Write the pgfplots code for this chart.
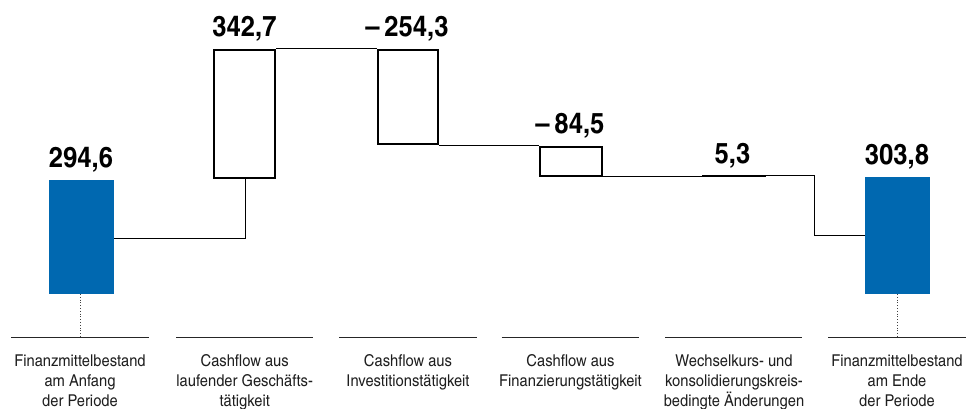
\documentclass[border=0pt]{standalone}
\usepackage{pgfplots}
\pgfplotsset{compat=1.18}
\usepackage{fontspec}
\setmainfont{texgyreheroscn}[Extension=.otf, UprightFont=*-regular, BoldFont=*-bold, FakeStretch=1.1]
\definecolor{fmblue}{RGB}{0,104,176}
\definecolor{labelgray}{RGB}{30,30,30}

\begin{document}
\begin{tikzpicture}
\begin{axis}[
    width=977pt, height=338pt, scale only axis,
    xmin=0, xmax=977, ymin=0, ymax=338,
    axis line style={draw=none},
    tick style={draw=none}, major tick length=0pt,
    ytick=\empty,
    xtick={80,244.7,408,570.5,734,897},
    xticklabels={
        {Finanzmittelbestand\\am Anfang\\der Periode},
        {Cashflow aus\\laufender Geschäfts-\\tätigkeit},
        {Cashflow aus\\Investitionstätigkeit},
        {Cashflow aus\\Finanzierungstätigkeit},
        {Wechselkurs- und\\konsolidierungskreis-\\bedingte Änderungen},
        {Finanzmittelbestand\\am Ende\\der Periode}},
    xticklabel style={anchor=north, inner sep=0pt, yshift=-16.5pt, align=center,
        font=\fontsize{16.3}{20}\selectfont, text=labelgray},
    clip=false,
]
% category base lines
\addplot[draw=black!85, line width=1pt, unbounded coords=jump] coordinates {
    (11,0) (149,0) (160,nan)
    (176,0) (313.3,0) (325,nan)
    (339,0) (476.7,0) (490,nan)
    (501.7,0) (639,0) (650,nan)
    (665.3,0) (802.3,0) (815,nan)
    (828.3,0) (965.7,0)};
% dotted stems under the balances
\addplot[draw=black!75, dotted, line width=0.8pt] coordinates {(80,44) (80,0)};
\addplot[draw=black!75, dotted, line width=0.8pt] coordinates {(897,44) (897,0)};

% connectors
\addplot[black, line width=0.9pt] coordinates {(114,99.7) (245.3,99.7) (245.3,160)};
\addplot[black, line width=0.9pt] coordinates {(276,289.3) (377,289.3)};
\addplot[black, line width=0.9pt] coordinates {(439,193) (539,193)};
\addplot[black, line width=0.9pt] coordinates {(602,161.3) (702,161.3)};
\addplot[black, line width=0.9pt] coordinates {(766,162.7) (814.3,162.7) (814.3,103) (865.3,103)};

% opening and closing balances
\addplot[fill=fmblue, draw=none] coordinates {(49,44.3) (114,44.3) (114,158) (49,158)} -- cycle;
\addplot[fill=fmblue, draw=none] coordinates {(865.3,44.3) (930,44.3) (930,161) (865.3,161)} -- cycle;

% cash flow boxes
\addplot[fill=white, draw=black, line width=2pt] coordinates {(214.3,160) (275,160) (275,288) (214.3,288)} -- cycle;
\addplot[fill=white, draw=black, line width=2pt] coordinates {(377.7,194) (438.3,194) (438.3,288) (377.7,288)} -- cycle;
\addplot[fill=white, draw=black, line width=2pt] coordinates {(540.3,162.3) (601.7,162.3) (601.7,191.3) (540.3,191.3)} -- cycle;
\addplot[draw=black, line width=2pt] coordinates {(702,161.7) (766,161.7)};

% value labels
\addplot[draw=none, mark=none, nodes near coords, point meta=explicit symbolic,
    nodes near coords style={anchor=base, inner sep=0pt, text=black,
        font=\fontsize{28.5}{30}\selectfont\bfseries}]
    table[meta=t] {
x     y     t
81    170   294,6
244.5 301.3 342,7
407   301.3 --\,254,3
570   204.7 --\,84,5
732.5 174.7 5,3
897   173   303,8
};
\end{axis}
\pgfresetboundingbox
\path (current axis.south west) ++(0,-71pt) rectangle (current axis.north east);
\end{tikzpicture}
\end{document}
